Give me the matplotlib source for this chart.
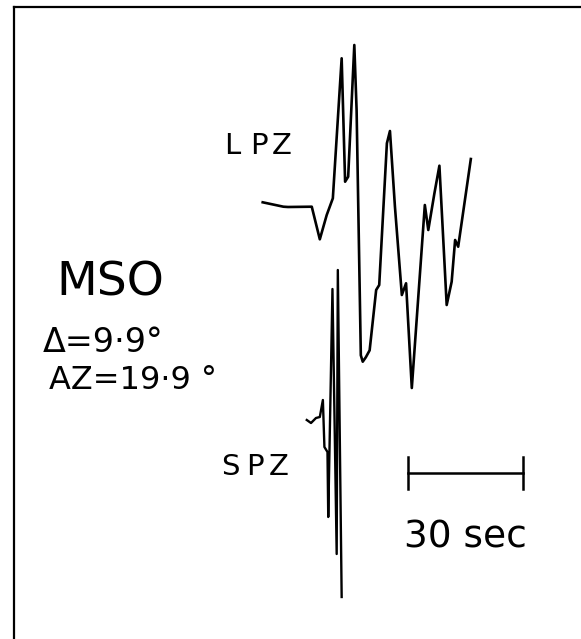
import matplotlib
matplotlib.use("Agg")
import matplotlib.pyplot as plt
from matplotlib.lines import Line2D

# LPZ trace: time (s) and amplitude (arbitrary units, up positive)
lpz_t = [0.0, 5.4, 6.6, 12.8, 14.9, 16.7, 18.3, 20.6, 21.5, 22.3, 23.9, 24.5,
         25.6, 26.1, 26.9, 27.9, 29.6, 30.4, 32.4, 33.2, 34.5, 36.3, 37.4,
         38.9, 42.3, 43.2, 44.8, 46.1, 48.0, 49.3, 50.2, 51.0, 54.3]
lpz_amp = [0.0, -4.4, -4.7, -4.4, -37.0, -12.7, 4.0, 144.0, 20.6, 25.6, 157.3, 92.0,
           -153.0, -159.4, -155.0, -148.0, -87.7, -82.7, 59.0, 71.3, -4.4, -92.7, -81.0,
           -185.7, -2.7, -27.7, 9.0, 36.6, -102.7, -79.4, -37.7, -44.4, 43.3]

# SPZ trace
spz_t = [11.5, 12.6, 13.9, 14.9, 15.7, 16.1, 16.9, 17.1, 18.2, 19.3, 19.6, 20.6]
spz_amp = [0.0, -3.0, 2.0, 3.0, 20.0, -27.0, -32.0, -97.0, 131.0, -134.0, 150.0, -177.0]

scale_sec = 30
labels = ["LPZ", "SPZ"]
station = "MSO"
delta_txt = "\u0394=9\u00b79\u00b0"
az_txt = "AZ=19\u00b79 \u00b0"

W, H = 581, 639
px_per_s = 3.833
x0 = 262.7      # pixel position of LPZ start
y_lpz = 202.3   # pixel baseline of LPZ
y_spz = 420.0   # pixel baseline of SPZ


def main():
    fig = plt.figure(figsize=(W / 100, H / 100), dpi=100)
    ax = fig.add_axes([0, 0, 1, 1])
    ax.set_xlim(-x0 / px_per_s, (W - x0) / px_per_s)
    ax.set_ylim(y_lpz - H, y_lpz)
    ax.axis("off")

    spz_off = y_lpz - y_spz
    ax.plot(lpz_t, lpz_amp, color="black", lw=1.9, solid_joinstyle="round")
    ax.plot(spz_t, [a + spz_off for a in spz_amp], color="black", lw=1.7,
            solid_joinstyle="round")

    # 30 sec scale bar
    bar_t0 = (408.3 - x0) / px_per_s
    bar_y = y_lpz - 473.3
    ax.plot([bar_t0, bar_t0 + scale_sec], [bar_y, bar_y], color="black", lw=1.8)
    for tt in (bar_t0, bar_t0 + scale_sec):
        ax.plot([tt, tt], [bar_y - 16, bar_y + 16], color="black", lw=1.8)

    # frame (top and left edges only visible)
    fig.add_artist(Line2D([14 / W, 1], [1 - 7 / H, 1 - 7 / H], color="black", lw=1.6))
    fig.add_artist(Line2D([14 / W, 14 / W], [0, 1 - 7 / H], color="black", lw=1.6))

    def put(s, x, y, size):
        fig.text(x / W, 1 - y / H, s, fontsize=size, ha="left", va="baseline",
                 family="DejaVu Sans")

    # hand lettering is spaced out, so these labels go letter by letter
    def put_spaced(s, xs, y, size):
        for ch, x in zip(s, xs):
            put(ch, x, y, size)

    put_spaced(labels[0], [224, 250, 272], 154, 21)
    put_spaced(labels[1], [221, 246, 269], 475, 21)
    put(station, 56, 296, 34)
    put(delta_txt, 43, 352, 24)
    put(az_txt, 49, 389, 23)
    put(f"{scale_sec} sec", 404, 548, 27)

    fig.savefig("out.png", dpi=100, facecolor="white")


if __name__ == "__main__":
    main()
